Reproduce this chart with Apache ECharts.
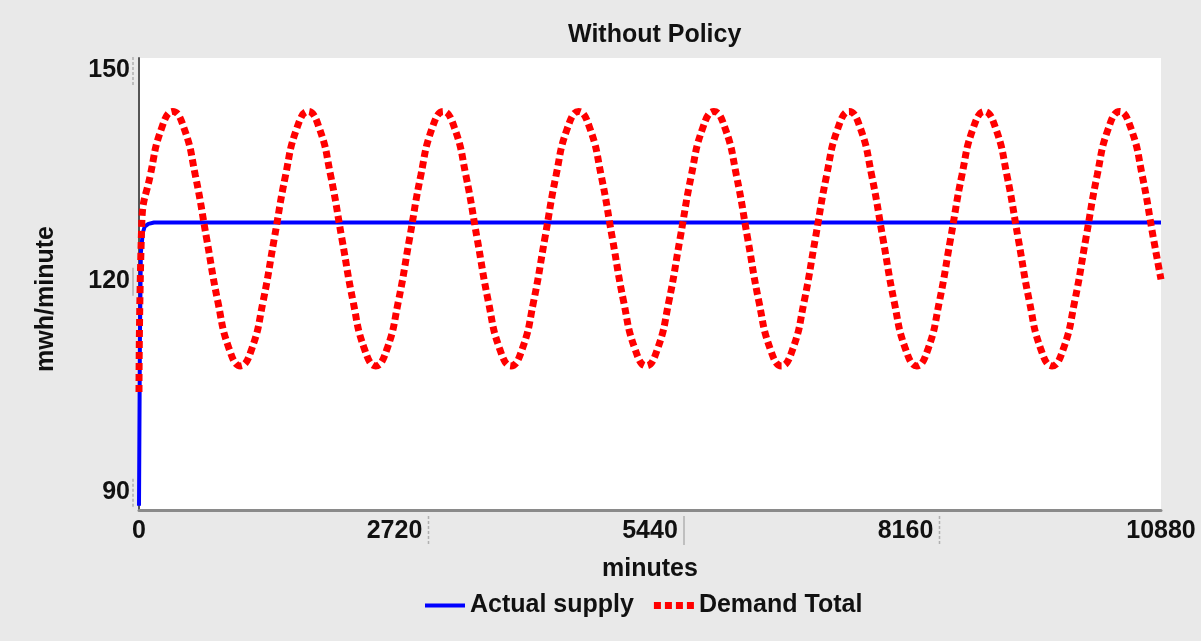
<!DOCTYPE html>
<html>
<head>
<meta charset="utf-8">
<script src="https://cdn.jsdelivr.net/npm/echarts@6/dist/echarts.min.js"></script>
<style>
  html, body { margin: 0; padding: 0; background: #e9e9e9; }
  #main { width: 1201px; height: 641px; }
</style>
</head>
<body>
<div id="main"></div>
<script>
// x tick labels (minutes)
var xTicks = [0, 2720, 5440, 8160, 10880];
var yTicks = [90, 120, 150];

// Actual supply
var supplyTime = [0, 10, 20, 40, 60, 100, 160, 10880];
var supplyVals = [88, 112, 124, 126.8, 127.7, 128.1, 128.3, 128.3];

// Demand Total
var demandTime = [0, 30,
  120, 240, 360, 480, 600, 720, 840, 960, 1080, 1200, 1320, 1440,
  1560, 1680, 1800, 1920, 2040, 2160, 2280, 2400, 2520, 2640, 2760, 2880,
  3000, 3120, 3240, 3360, 3480, 3600, 3720, 3840, 3960, 4080, 4200, 4320,
  4440, 4560, 4680, 4800, 4920, 5040, 5160, 5280, 5400, 5520, 5640, 5760,
  5880, 6000, 6120, 6240, 6360, 6480, 6600, 6720, 6840, 6960, 7080, 7200,
  7320, 7440, 7560, 7680, 7800, 7920, 8040, 8160, 8280, 8400, 8520, 8640,
  8760, 8880, 9000, 9120, 9240, 9360, 9480, 9600, 9720, 9840, 9960, 10080,
  10200, 10320, 10440, 10560, 10680, 10800, 10880];
var demandVals = [104.2, 128.4,
  135.0, 141.7, 144.1, 141.7, 135.0, 126.0, 117.0, 110.3, 107.9, 110.3, 117.0, 126.0,
  135.0, 141.7, 144.1, 141.7, 135.0, 126.0, 117.0, 110.3, 107.9, 110.3, 117.0, 126.0,
  135.0, 141.7, 144.1, 141.7, 135.0, 126.0, 117.0, 110.3, 107.9, 110.3, 117.0, 126.0,
  135.0, 141.7, 144.1, 141.7, 135.0, 126.0, 117.0, 110.3, 107.9, 110.3, 117.0, 126.0,
  135.0, 141.7, 144.1, 141.7, 135.0, 126.0, 117.0, 110.3, 107.9, 110.3, 117.0, 126.0,
  135.0, 141.7, 144.1, 141.7, 135.0, 126.0, 117.0, 110.3, 107.9, 110.3, 117.0, 126.0,
  135.0, 141.7, 144.1, 141.7, 135.0, 126.0, 117.0, 110.3, 107.9, 110.3, 117.0, 126.0,
  135.0, 141.7, 144.1, 141.7, 135.0, 126.0, 120.2];

function zip(a, b) {
  return a.map(function (v, i) { return [v, b[i]]; });
}

var font = 'Liberation Sans, Arial, sans-serif';
var txt = { fontFamily: font, fontSize: 25, fontWeight: 'bold', color: '#111' };
var chart = echarts.init(document.getElementById('main'));

chart.setOption({
  backgroundColor: '#e9e9e9',
  animation: false,
  title: {
    text: 'Without Policy',
    left: 563,
    top: 18,
    textStyle: txt
  },
  legend: {
    bottom: 18,
    left: 420,
    itemGap: 20,
    itemWidth: 40,
    itemHeight: 7,
    textStyle: txt,
    data: [
      { name: 'Actual supply', icon: 'path://M0,0h40v4h-40z' },
      { name: 'Demand Total', icon: 'path://M0,0h7v7h-7z M11,0h7v7h-7z M22,0h7v7h-7z M33,0h7v7h-7z' }
    ]
  },
  grid: {
    left: 139, right: 40, top: 58, bottom: 131,
    show: true, backgroundColor: '#fff', borderWidth: 0
  },
  xAxis: {
    type: 'value',
    min: 0, max: 10880, interval: 2720,
    name: 'minutes',
    nameLocation: 'middle',
    nameGap: 47,
    nameTextStyle: txt,
    axisLine: { show: true, lineStyle: { color: '#8a8a8a', width: 3 } },
    axisTick: { show: false },
    splitLine: { show: false },
    axisLabel: Object.assign({
      margin: 9,
      customValues: xTicks,
      formatter: function (v) { return String(v); }
    }, txt)
  },
  yAxis: {
    type: 'value',
    min: 87.4, max: 151.7,
    name: 'mwh/minute',
    nameLocation: 'middle',
    nameGap: 80,
    nameTextStyle: Object.assign({ padding: [0, 30, 0, 0] }, txt),
    axisLine: { show: true, lineStyle: { color: '#555', width: 2 } },
    axisTick: { show: false },
    splitLine: { show: false },
    axisLabel: Object.assign({ margin: 9, customValues: yTicks }, txt)
  },
  series: [
    {
      name: 'Actual supply',
      type: 'line',
      data: zip(supplyTime, supplyVals),
      showSymbol: false,
      symbol: 'none',
      itemStyle: { color: '#0000ff' },
      lineStyle: { color: '#0000ff', width: 4 }
    },
    {
      name: 'Demand Total',
      type: 'line',
      data: zip(demandTime, demandVals),
      showSymbol: false,
      symbol: 'none',
      smooth: 0.5,
      itemStyle: { color: '#ff0000' },
      lineStyle: { color: '#ff0000', width: 7, type: [7, 4] }
    }
  ]
});

// little grey marks beside the tick labels, like the original tool draws
var marks = [];
xTicks.slice(1, 4).forEach(function (v) {
  var px = chart.convertToPixel({ xAxisIndex: 0 }, v) + 34;
  var y0 = chart.convertToPixel({ yAxisIndex: 0 }, 87.4);
  marks.push({
    type: 'line', silent: true,
    shape: { x1: px, y1: y0 + 6, x2: px, y2: y0 + 35 },
    style: { stroke: '#b0b0b0', lineWidth: 1.5, lineDash: v === 5440 ? null : [3, 2] }
  });
});
yTicks.forEach(function (v) {
  var py = chart.convertToPixel({ yAxisIndex: 0 }, v);
  var px = chart.convertToPixel({ xAxisIndex: 0 }, 0) - 6;
  marks.push({
    type: 'line', silent: true,
    shape: { x1: px, y1: py - 13, x2: px, y2: py + 15 },
    style: { stroke: '#b0b0b0', lineWidth: 1.5, lineDash: v === 120 ? null : [3, 2] }
  });
});
chart.setOption({ graphic: marks });
</script>
</body>
</html>
